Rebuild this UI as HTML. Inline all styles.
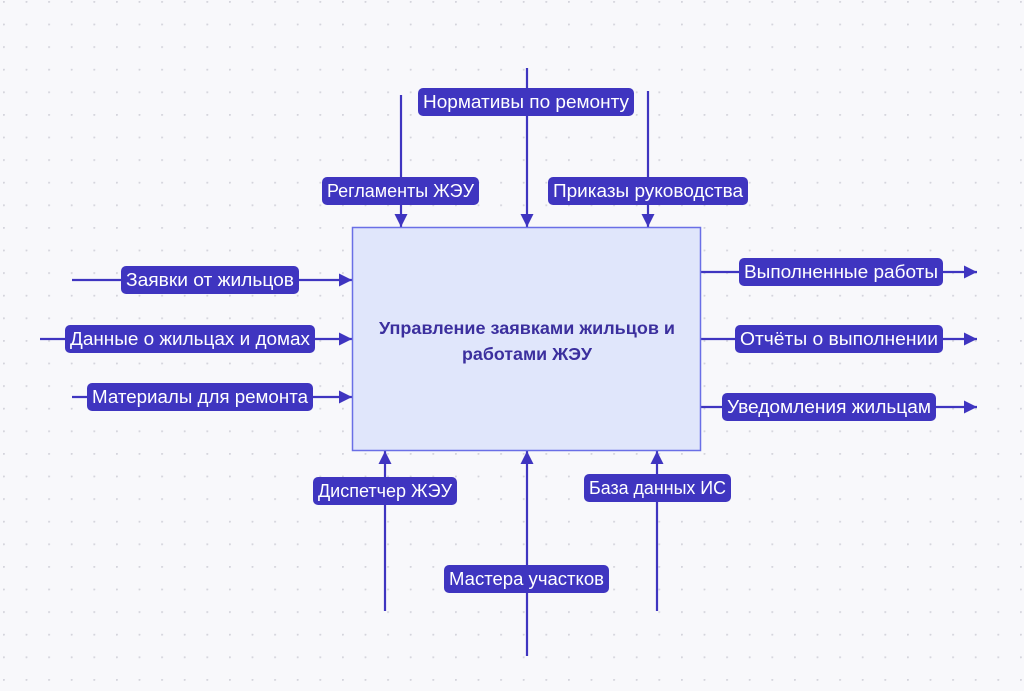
<!DOCTYPE html>
<html><head><meta charset="utf-8"><style>
html,body{margin:0;padding:0;width:1024px;height:691px;overflow:hidden;background:#f8f8fb}
svg{display:block}
text{font-family:"Liberation Sans","DejaVu Sans",sans-serif}
</style></head><body>
<svg width="1024" height="691" viewBox="0 0 1024 691" xmlns="http://www.w3.org/2000/svg">
<defs>
<pattern id="dots" x="3" y="1" width="22.6" height="22.6" patternUnits="userSpaceOnUse">
<circle cx="0.8" cy="0.8" r="1.1" fill="#d4d4dc"/>
</pattern>
<marker id="ah" viewBox="0 0 10 10" refX="10" refY="5" markerWidth="14" markerHeight="13" markerUnits="userSpaceOnUse" orient="auto">
<path d="M0,0 L10,5 L0,10 z" fill="#3f35c0"/>
</marker>
</defs>
<rect width="1024" height="691" fill="#f8f8fb"/>
<rect width="1024" height="691" fill="url(#dots)"/>
<g stroke="#3f35c0" stroke-width="2.2" fill="none">
<line x1="527" y1="68" x2="527" y2="227" marker-end="url(#ah)"/>
<line x1="401" y1="95" x2="401" y2="227" marker-end="url(#ah)"/>
<line x1="648" y1="91" x2="648" y2="227" marker-end="url(#ah)"/>
<line x1="72" y1="280" x2="352" y2="280" marker-end="url(#ah)"/>
<line x1="40" y1="339" x2="352" y2="339" marker-end="url(#ah)"/>
<line x1="72" y1="397" x2="352" y2="397" marker-end="url(#ah)"/>
<line x1="701" y1="272" x2="977" y2="272" marker-end="url(#ah)"/>
<line x1="701" y1="339" x2="977" y2="339" marker-end="url(#ah)"/>
<line x1="701" y1="407" x2="977" y2="407" marker-end="url(#ah)"/>
<line x1="385" y1="611" x2="385" y2="451" marker-end="url(#ah)"/>
<line x1="527" y1="656" x2="527" y2="451" marker-end="url(#ah)"/>
<line x1="657" y1="611" x2="657" y2="451" marker-end="url(#ah)"/>
</g>
<rect x="352.5" y="227.5" width="348" height="223" fill="#e0e6fb" stroke="#6a6fe6" stroke-width="1.5"/>
<text x="527" y="334" text-anchor="middle" font-size="17.5" font-weight="bold" fill="#3b2f9e" textLength="296" lengthAdjust="spacingAndGlyphs">Управление заявками жильцов и</text>
<text x="527" y="360" text-anchor="middle" font-size="17.5" font-weight="bold" fill="#3b2f9e" textLength="130" lengthAdjust="spacingAndGlyphs">работами ЖЭУ</text>
<g fill="#3f35c0">
<rect x="418" y="88" width="216" height="28" rx="5"/>
<rect x="322" y="177" width="157" height="28" rx="5"/>
<rect x="548" y="177" width="200" height="28" rx="5"/>
<rect x="121" y="266" width="178" height="28" rx="5"/>
<rect x="65" y="325" width="250" height="28" rx="5"/>
<rect x="87" y="383" width="226" height="28" rx="5"/>
<rect x="739" y="258" width="204" height="28" rx="5"/>
<rect x="735" y="325" width="208" height="28" rx="5"/>
<rect x="722" y="393" width="214" height="28" rx="5"/>
<rect x="313" y="477" width="144" height="28" rx="5"/>
<rect x="444" y="565" width="165" height="28" rx="5"/>
<rect x="584" y="474" width="147" height="28" rx="5"/>
</g>
<g fill="#ffffff" font-size="18">
<text x="423" y="108" textLength="206" lengthAdjust="spacingAndGlyphs">Нормативы по ремонту</text>
<text x="327" y="197" textLength="147" lengthAdjust="spacingAndGlyphs">Регламенты ЖЭУ</text>
<text x="553" y="197" textLength="190" lengthAdjust="spacingAndGlyphs">Приказы руководства</text>
<text x="126" y="286" textLength="168" lengthAdjust="spacingAndGlyphs">Заявки от жильцов</text>
<text x="70" y="345" textLength="240" lengthAdjust="spacingAndGlyphs">Данные о жильцах и домах</text>
<text x="92" y="403" textLength="216" lengthAdjust="spacingAndGlyphs">Материалы для ремонта</text>
<text x="744" y="278" textLength="194" lengthAdjust="spacingAndGlyphs">Выполненные работы</text>
<text x="740" y="345" textLength="198" lengthAdjust="spacingAndGlyphs">Отчёты о выполнении</text>
<text x="727" y="413" textLength="204" lengthAdjust="spacingAndGlyphs">Уведомления жильцам</text>
<text x="318" y="497" textLength="134" lengthAdjust="spacingAndGlyphs">Диспетчер ЖЭУ</text>
<text x="449" y="585" textLength="155" lengthAdjust="spacingAndGlyphs">Мастера участков</text>
<text x="589" y="494" textLength="137" lengthAdjust="spacingAndGlyphs">База данных ИС</text>
</g>
</svg>
</body></html>
